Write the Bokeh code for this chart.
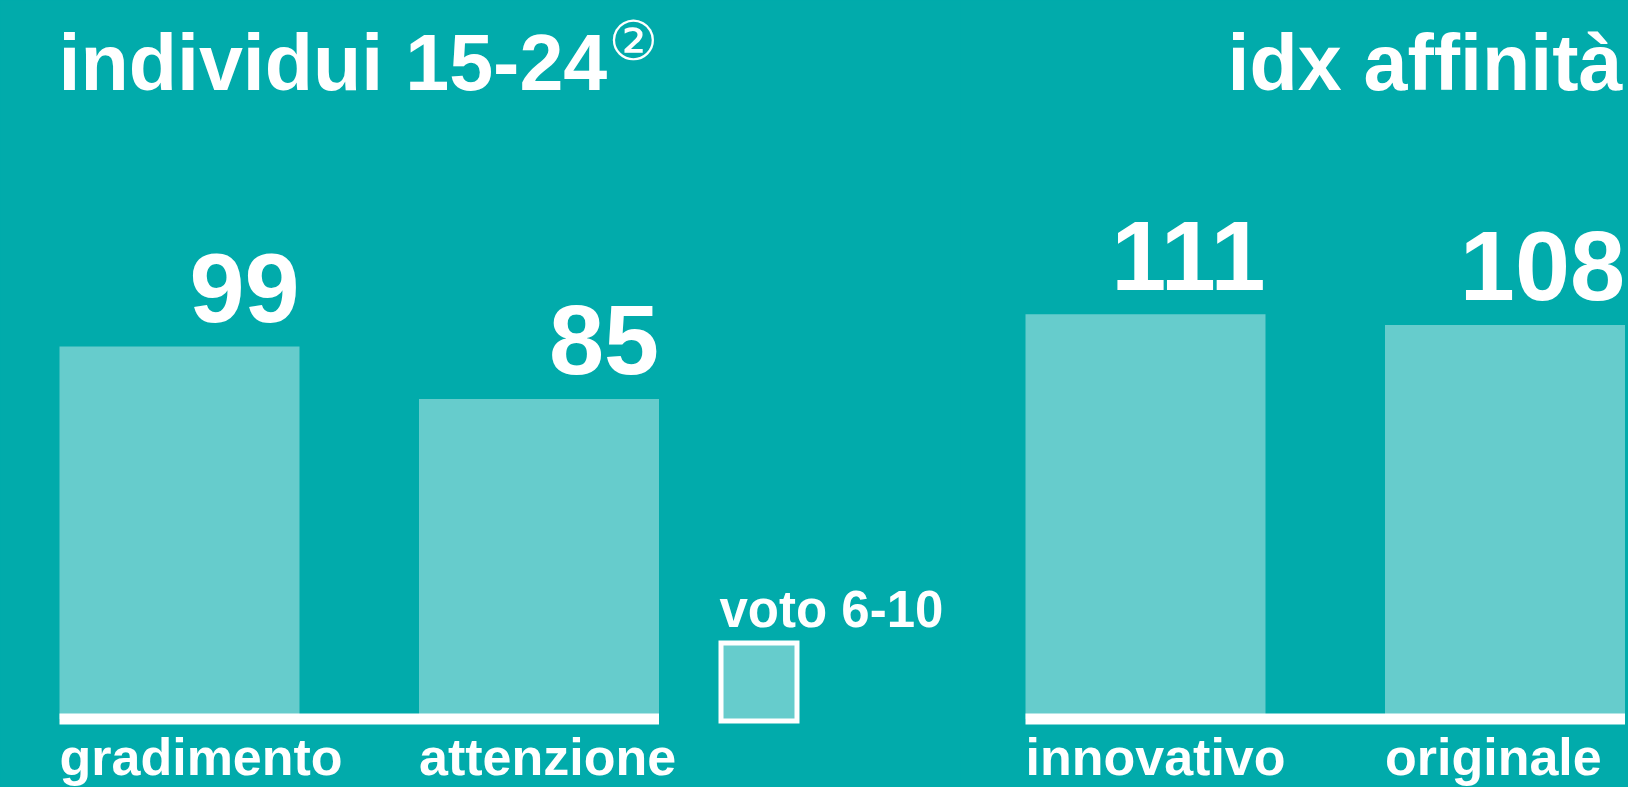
from bokeh.plotting import figure
from bokeh.models import Range1d, Label, BoxAnnotation, ColumnDataSource
from bokeh.layouts import row
from bokeh.embed import file_html
from bokeh.resources import INLINE
from bokeh.core.properties import value

# ---- data ----
left_title = "individui 15-24"
left_note = "②"
left_categories = ["gradimento", "attenzione"]
left_values = [99, 85]
right_title = "idx affinità"
right_categories = ["innovativo", "originale"]
right_values = [111, 108]
legend_label = "voto 6-10"

# ---- style ----
BG = "#01ABAB"
BAR = "#66CCCC"
WHITE = "#FFFFFF"
FONT = "Liberation Sans"

H = 787
SLOT = 359.5
BAR_W_PX = 240
BASE_PX = 68.5          # zero line distance from bottom edge
VAL_SIZE = 99
CAT_SIZE = 52
TITLE_SIZE = 79
LEG_SIZE = 51
MID = 0.36              # rendered baseline shift (fraction of font size)


def make_panel(width, first_center_px, cats, vals, ymax):
    p = figure(width=width, height=H, output_backend="svg", toolbar_location=None,
               x_axis_type=None, y_axis_type=None, min_border=0,
               x_range=Range1d(-first_center_px / SLOT, (width - first_center_px) / SLOT),
               y_range=Range1d(-BASE_PX / (H - BASE_PX) * ymax, ymax))
    p.outline_line_color = None
    p.background_fill_color = BG
    p.border_fill_color = BG
    xs = list(range(len(cats)))
    bw = BAR_W_PX / SLOT
    src = ColumnDataSource(dict(x=xs, top=vals, cat=cats, label=[str(v) for v in vals],
                                left=[x - bw / 2 for x in xs], right=[x + bw / 2 for x in xs]))
    p.vbar(x="x", top="top", bottom=0, width=bw, source=src,
           fill_color=BAR, line_color=None)
    p.segment(x0=xs[0] - bw / 2, y0=0, x1=xs[-1] + bw / 2, y1=0,
              line_color=WHITE, line_width=11, line_cap="butt")
    p.text(x="right", y="top", text="label", source=src, text_align="right",
           text_baseline="alphabetic", y_offset=-23 - MID * VAL_SIZE, text_font=value(FONT),
           text_font_style="bold", text_font_size=f"{VAL_SIZE}px", text_color=WHITE)
    p.text(x="left", y=0, text="cat", source=src, text_align="left",
           text_baseline="alphabetic", y_offset=56.5 - MID * CAT_SIZE, text_font=value(FONT),
           text_font_style="bold", text_font_size=f"{CAT_SIZE}px", text_color=WHITE)
    return p


LEFT_W = 960
left = make_panel(LEFT_W, 179, left_categories, left_values, 190.9)
right = make_panel(1628 - LEFT_W, 1145 - LEFT_W, right_categories, right_values, 197.0)

title_y = H - (90 - MID * TITLE_SIZE)
left.add_layout(Label(x=58, y=title_y, x_units="screen", y_units="screen", text=left_title,
                      text_font=FONT, text_font_style="bold", text_font_size=f"{TITLE_SIZE}px",
                      text_color=WHITE, text_align="left", text_baseline="alphabetic"))
left.add_layout(Label(x=633, y=H - 40, x_units="screen", y_units="screen", text=left_note,
                      text_font="DejaVu Sans", text_font_size="55px",
                      text_color=WHITE, text_align="center", text_baseline="middle"))
left.add_layout(Label(x=719, y=H - (627 - MID * LEG_SIZE), x_units="screen", y_units="screen",
                      text=legend_label, text_font=FONT, text_font_style="bold",
                      text_font_size=f"{LEG_SIZE}px", text_color=WHITE,
                      text_align="left", text_baseline="alphabetic"))
left.add_layout(BoxAnnotation(left=720.5, right=796.5, bottom=H - 720.5, top=H - 642.5,
                              left_units="screen", right_units="screen",
                              bottom_units="screen", top_units="screen",
                              fill_color=BAR, fill_alpha=1.0, line_join="miter",
                              line_color=WHITE, line_width=5, line_alpha=1.0))
right.add_layout(Label(x=1622 - LEFT_W, y=title_y, x_units="screen", y_units="screen",
                       text=right_title, text_font=FONT, text_font_style="bold",
                       text_font_size=f"{TITLE_SIZE}px", text_color=WHITE,
                       text_align="right", text_baseline="alphabetic"))

layout = row(left, right, spacing=0)
html = file_html(layout, INLINE, title="chart")
html = html.replace("<head>", "<head><style>html,body{background:%s;}</style>" % BG, 1)
open("out.html", "w").write(html)
